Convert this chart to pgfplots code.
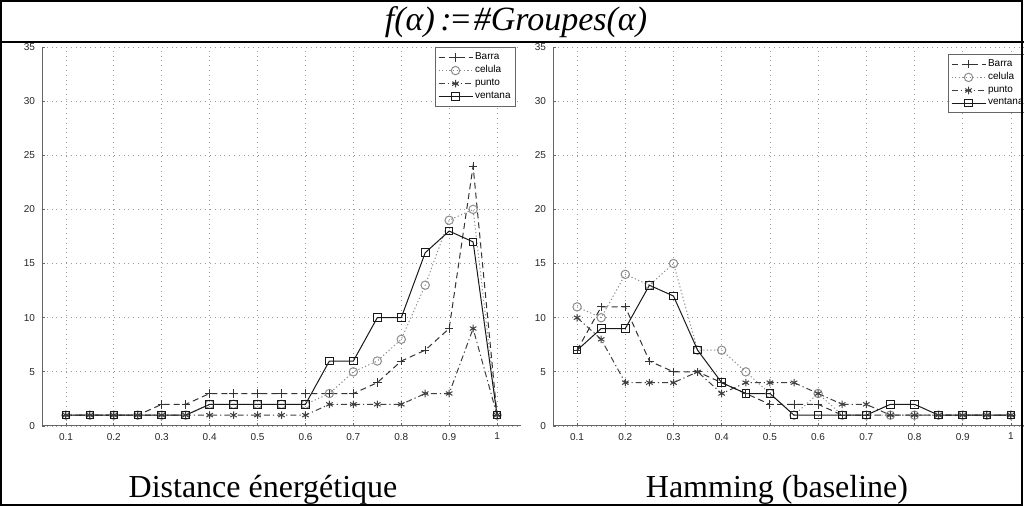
\documentclass[border=0pt]{standalone}
\usepackage{fontspec}
\setmainfont{Liberation Serif}
\newfontfamily\hv{Liberation Sans}
\usepackage{pgfplots}
\pgfplotsset{compat=1.18}
\usepackage{pgfplotstable}

\pgfplotstableread{
x     Barra celula punto ventana
0.10  1  1  1  1
0.15  1  1  1  1
0.20  1  1  1  1
0.25  1  1  1  1
0.30  2  1  1  1
0.35  2  1  1  1
0.40  3  2  1  2
0.45  3  2  1  2
0.50  3  2  1  2
0.55  3  2  1  2
0.60  3  2  1  2
0.65  3  3  2  6
0.70  3  5  2  6
0.75  4  6  2  10
0.80  6  8  2  10
0.85  7  13 3  16
0.90  9  19 3  18
0.95  24 20 9  17
1.00  1  1  1  1
}\energ

\pgfplotstableread{
x     Barra celula punto ventana
0.10  7  11 10 7
0.15  11 10 8  9
0.20  11 14 4  9
0.25  6  13 4  13
0.30  5  15 4  12
0.35  5  7  5  7
0.40  4  7  3  4
0.45  3  5  4  3
0.50  2  3  4  3
0.55  2  1  4  1
0.60  2  3  3  1
0.65  1  1  2  1
0.70  1  1  2  1
0.75  1  1  1  2
0.80  1  1  1  2
0.85  1  1  1  1
0.90  1  1  1  1
0.95  1  1  1  1
1.00  1  1  1  1
}\hamm

\pgfplotsset{
  panel/.style={
    scale only axis,
    height=189.5pt,
    xmin=0.05, xmax=1.05,
    ymin=0, ymax=35,
    xtick={0.1,0.2,0.3,0.4,0.5,0.6,0.7,0.8,0.9,1},
    ytick={0,5,10,15,20,25,30,35},
    /pgf/number format/assume math mode=true,
    xticklabel style={/pgf/number format/fixed,/pgf/number format/precision=1},
    ticklabel style={font=\hv\fontsize{5}{6}\selectfont, text=black!85},
    axis x line*=bottom, axis y line*=left,
    x axis line style={-, black!60, line width=0.5pt},
    y axis line style={-, black!60, line width=0.5pt},
    tick align=inside,
    major tick length=1.5pt,
    tick style={black!60, line width=0.4pt},
    grid=major,
    major grid style={dotted, black!40, line width=0.4pt},
    legend cell align=left,
    legend style={font=\hv\fontsize{5}{5.5}\selectfont, draw=black!60, line width=0.4pt,
      fill=white, inner sep=1.5pt, row sep=-0.4pt, nodes={inner sep=1pt}},
    legend image code/.code={
      \draw[mark repeat=2,mark phase=2] plot coordinates {(0pt,0pt)(8.5pt,0pt)(17pt,0pt)};},
    every axis plot/.append style={line width=0.5pt},
  },
  sBarra/.style={black!80, dash pattern=on 3pt off 2pt, mark=+, mark size=2.1pt, mark options={solid}},
  sCelula/.style={black!45, dash pattern=on 0.6pt off 1.2pt, mark=o, mark size=2.1pt, mark options={solid}},
  sPunto/.style={black!75, dash pattern=on 3pt off 1.5pt on 0.6pt off 1.5pt, mark=asterisk, mark size=1.9pt, mark options={solid}},
  sVentana/.style={black!90, solid, mark=square, mark size=1.9pt, mark options={solid}},
}

\begin{document}
\begin{tikzpicture}[x=1pt,y=1pt]
\begin{scope}
\clip (0,0) rectangle (512,253);

\begin{axis}[panel, width=239.5pt, at={(21pt,40pt)}, anchor=south west,
  legend style={at={(0.9896,1)}, anchor=north east}]
\addplot[sBarra] table[x=x,y=Barra] {\energ};
\addlegendentry{Barra}
\addplot[sCelula] table[x=x,y=celula] {\energ};
\addlegendentry{celula}
\addplot[sPunto] table[x=x,y=punto] {\energ};
\addlegendentry{punto}
\addplot[sVentana] table[x=x,y=ventana] {\energ};
\addlegendentry{ventana}
\end{axis}

\begin{axis}[panel, width=241pt, at={(276.5pt,40pt)}, anchor=south west,
  legend style={at={(0.9876,0.982)}, anchor=north east}]
\addplot[sBarra] table[x=x,y=Barra] {\hamm};
\addlegendentry{Barra}
\addplot[sCelula] table[x=x,y=celula] {\hamm};
\addlegendentry{celula}
\addplot[sPunto] table[x=x,y=punto] {\hamm};
\addlegendentry{punto}
\addplot[sVentana] table[x=x,y=ventana] {\hamm};
\addlegendentry{ventana}
\end{axis}

% table frame
\draw[line width=1pt, black] (0.5,0.5) rectangle (511,252.5);
\draw[line width=1pt, black] (0,232) -- (512,232);

\node[font=\fontsize{17}{18}\selectfont\itshape, anchor=center] at (258,242) {f(α)\,:\kern-0.08em=\kern0.05em\#Groupes(α)};
\node[font=\fontsize{16}{18}\selectfont, anchor=base] at (131.5,4) {Distance énergétique};
\node[font=\fontsize{16}{18}\selectfont, anchor=base] at (388.5,4) {Hamming (baseline)};
\end{scope}
\pgfresetboundingbox
\path[use as bounding box] (0,0) rectangle (512,253);
\end{tikzpicture}
\end{document}
